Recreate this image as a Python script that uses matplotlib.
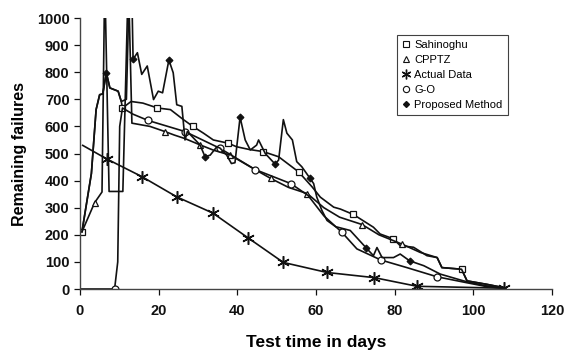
import matplotlib
matplotlib.use('Agg')
import matplotlib.pyplot as plt
from matplotlib.lines import Line2D

plt.rcParams['font.family'] = ['Liberation Sans', 'DejaVu Sans']

# ── Data (values >1000 run off the top) ──
sah_x = [0.5, 2.9, 4.1, 5.0, 5.8, 6.7, 7.6, 9.7, 10.5, 10.8, 13.0, 16.0, 19.7,
         23.0, 26.3, 28.7, 31.4, 33.9, 37.7, 39.8, 43.0, 46.6, 50.5, 55.6,
         59.0, 61.1, 64.5, 66.2, 69.5, 74.6, 76.3, 79.7, 81.4, 84.8, 88.2,
         90.8, 92.0, 97.0, 98.4, 103.5, 107.7]
sah_y = [211, 426, 662, 717, 720, 798, 742, 730, 692, 668, 692, 686, 668,
         662, 625, 600, 575, 550, 538, 525, 515, 507, 488, 432,
         377, 339, 302, 295, 275, 228, 203, 185, 160, 154, 123,
         116, 79, 73, 30, 17, 5]
sah_mk = [0, 9, 12, 15, 18, 21, 23, 28, 31, 37]

cpp_x = [0.5, 3.7, 5.6, 6.3, 7.4, 10.9, 12.3, 13.2, 17.8, 21.6, 24.0, 26.7,
         30.5, 34.0, 38.2, 44.0, 48.5, 53.0, 57.8, 62.0, 66.0, 71.7, 76.0,
         81.8, 86.5, 90.8, 92.0, 97.0, 98.4, 103.5, 107.7]
cpp_y = [211, 318, 358, 1150, 360, 360, 1150, 612, 600, 581, 568, 555,
         532, 512, 494, 445, 408, 375, 352, 300, 265, 238, 200,
         166, 135, 116, 79, 73, 30, 17, 5]
cpp_mk = [1, 9, 12, 14, 16, 18, 21, 23]

act_x = [0.7, 6.8, 15.7, 24.6, 33.8, 42.8, 51.7, 62.8, 74.8, 85.7, 107.7]
act_y = [530, 480, 415, 340, 280, 188, 98, 61, 42, 10, 3]
act_mk = [1, 2, 3, 4, 5, 6, 7, 8, 9, 10]

go_x = [0, 8.8, 9.6, 10.1, 10.8, 13.5, 17.3, 26.7, 35.6, 44.5, 53.6, 58.0,
        62.0, 66.6, 70.4, 76.5, 83.1, 90.8, 98.4, 103.0, 107.7]
go_y = [0, 0, 100, 600, 668, 645, 622, 581, 519, 441, 389, 345,
        270, 209, 148, 107, 79, 45, 23, 10, 3]
go_mk = [1, 6, 7, 8, 9, 10, 13, 15, 17]

prop_x = [0.5, 2.9, 4.1, 5.0, 5.8, 6.7, 7.6, 9.7, 10.5, 11.8, 12.6, 13.1,
          13.5, 14.6, 15.7, 17.1, 18.7, 19.9, 21.0, 22.6, 23.7, 24.6, 25.9,
          26.3, 26.7, 27.3, 30.5, 31.8, 33.1, 34.8, 35.6, 37.3, 38.5, 39.4,
          40.7, 42.0, 43.3, 44.9, 45.4, 47.1, 49.6, 50.5, 51.7, 52.6, 54.0,
          55.1, 56.4, 58.5, 59.4, 60.2, 61.5, 62.8, 65.0, 68.7, 72.8, 74.6,
          75.5, 76.8, 79.7, 81.4, 83.8, 87.4, 91.6, 97.5, 103.0, 107.7]
prop_y = [211, 426, 662, 717, 720, 798, 742, 730, 692, 700, 1150, 1150,
          848, 872, 792, 823, 699, 730, 724, 845, 798, 680, 674,
          612, 550, 581, 532, 488, 494, 525, 520, 494, 463, 466,
          634, 550, 513, 531, 550, 500, 461, 476, 625, 575, 550,
          470, 451, 408, 389, 339, 290, 253, 230, 216, 151, 123,
          153, 116, 116, 129, 104, 86, 55, 30, 12, 5]
prop_mk = [5, 12, 19, 27, 34, 40, 47, 54, 60]

x_ticks = [0, 20, 40, 60, 80, 100, 120]
y_ticks = list(range(0, 1001, 100))

# ── Plot ──
fig = plt.figure(figsize=(5.66, 3.54), dpi=100)
ax = fig.add_axes([0.1413, 0.1836, 0.834, 0.7655])

ink = '#111111'
lw = 1.2
ax.plot(sah_x, sah_y, color=ink, lw=lw, marker='s', ms=4.5, mfc='white',
        mew=0.9, markevery=sah_mk, label='Sahinoghu')
ax.plot(cpp_x, cpp_y, color=ink, lw=lw, marker='^', ms=4.5, mfc='white',
        mew=0.9, markevery=cpp_mk, label='CPPTZ')
ax.plot(act_x, act_y, color=ink, lw=lw, marker=(6, 2, 0), ms=9,
        mew=1.1, markevery=act_mk, label='Actual Data')
ax.plot(go_x, go_y, color=ink, lw=lw, marker='o', ms=5, mfc='white',
        mew=0.9, markevery=go_mk, label='G-O')
ax.plot(prop_x, prop_y, color=ink, lw=lw, marker='D', ms=3.5, mfc=ink,
        mew=0.8, markevery=prop_mk, label='Proposed Method')

ax.set_xlim(0, 120)
ax.set_ylim(0, 1000)
ax.set_xticks(x_ticks)
ax.set_yticks(y_ticks)
ax.tick_params(direction='out', length=4, width=0.9, colors=ink,
               labelsize=10.5)
ax.tick_params(axis='x', pad=7)
for lab in ax.get_xticklabels() + ax.get_yticklabels():
    lab.set_fontweight('bold')
ax.spines['top'].set_visible(False)
ax.spines['right'].set_visible(False)
for s in ('left', 'bottom'):
    ax.spines[s].set_color('#444444')
    ax.spines[s].set_linewidth(1.0)

ax.set_xlabel('Test time in days', fontsize=12.5, fontweight='bold', labelpad=12)
ax.set_ylabel('Remaining failures', fontsize=11.5, fontweight='bold', labelpad=7)

handles = [
    Line2D([], [], ls='none', marker='s', ms=4, mfc='white', mec=ink, mew=0.8),
    Line2D([], [], ls='none', marker='^', ms=4, mfc='white', mec=ink, mew=0.8),
    Line2D([], [], ls='none', marker=(6, 2, 0), ms=7, mec=ink, mew=1.0),
    Line2D([], [], ls='none', marker='o', ms=4.5, mfc='white', mec=ink, mew=0.8),
    Line2D([], [], ls='none', marker='D', ms=3, mfc=ink, mec=ink),
]
labels = ['Sahinoghu', 'CPPTZ', 'Actual Data', 'G-O', 'Proposed Method']
leg = ax.legend(handles, labels, loc='upper left', bbox_to_anchor=(0.672, 0.937),
                borderaxespad=0, fontsize=8, frameon=True, fancybox=False,
                edgecolor=ink, handlelength=0.6, handletextpad=0.5,
                labelspacing=0.45, borderpad=0.45)
leg.get_frame().set_linewidth(0.8)

fig.savefig('out.png', dpi=100)
